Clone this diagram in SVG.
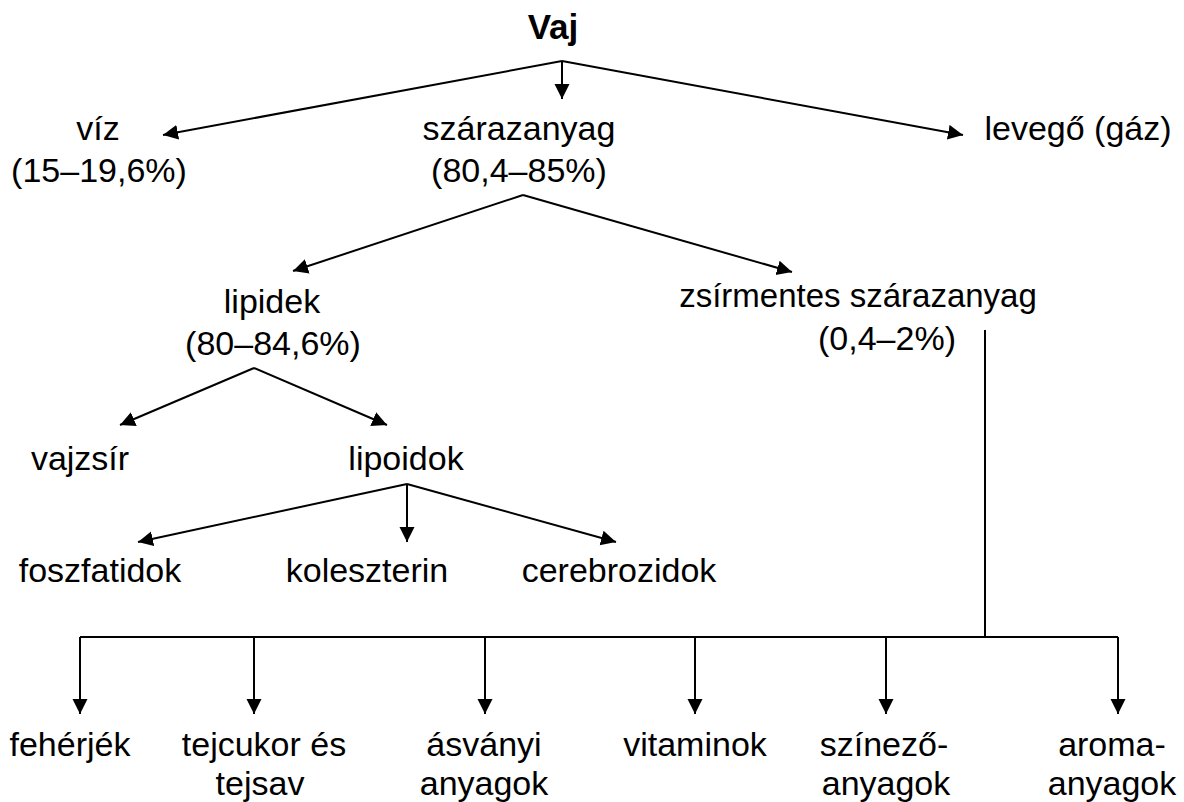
<svg xmlns="http://www.w3.org/2000/svg" width="1184" height="802" viewBox="0 0 1184 802">
<style>
text{font-family:"Liberation Sans",Arial,sans-serif;font-size:34px;fill:#000;text-anchor:middle}
.b{font-weight:bold;font-size:35px}
.n{font-size:33px}
.l{fill:none;stroke:#000;stroke-width:2}
.a{marker-end:url(#ah)}
</style>
<defs>
<marker id="ah" markerUnits="userSpaceOnUse" markerWidth="16" markerHeight="16" viewBox="0 0 16 16" refX="15" refY="8" orient="auto">
<path d="M0,0.5 L15,8 L0,15.5 z" fill="#000"/>
</marker>
</defs>
<rect width="1184" height="802" fill="#fff"/>
<g id="connectors">
<path class="l a" d="M562,61 L163,135"/>
<path class="l a" d="M562,61 L562,99"/>
<path class="l a" d="M562,61 L963,135"/>
<path class="l a" d="M523,195 L293,271"/>
<path class="l a" d="M523,195 L792,272"/>
<path class="l a" d="M254,368 L120,425"/>
<path class="l a" d="M254,368 L387,425"/>
<path class="l a" d="M407,484 L138,542"/>
<path class="l a" d="M407,484 L407,542"/>
<path class="l a" d="M407,484 L616,542"/>
<path class="l" d="M985,330 L985,637 M80,637 L1118,637"/>
<path class="l a" d="M80,637 L80,714"/>
<path class="l a" d="M254,637 L254,714"/>
<path class="l a" d="M485,637 L485,714"/>
<path class="l a" d="M695,637 L695,714"/>
<path class="l a" d="M886,637 L886,714"/>
<path class="l a" d="M1118,637 L1118,714"/>
</g>
<g id="vaj"><text class="b" x="553" y="39">Vaj</text></g>
<g id="viz"><text x="98" y="140">víz</text><text x="99" y="182">(15–19,6%)</text></g>
<g id="szarazanyag"><text x="519" y="140">szárazanyag</text><text x="519" y="182">(80,4–85%)</text></g>
<g id="levego"><text x="1078" y="140">levegő (gáz)</text></g>
<g id="lipidek"><text x="272" y="313">lipidek</text><text x="273" y="355">(80–84,6%)</text></g>
<g id="zsirmentes"><text class="n" x="858" y="307">zsírmentes szárazanyag</text><text x="887" y="350">(0,4–2%)</text></g>
<g id="vajzsir"><text x="80" y="470">vajzsír</text></g>
<g id="lipoidok"><text x="406" y="470">lipoidok</text></g>
<g id="foszfatidok"><text x="100" y="582">foszfatidok</text></g>
<g id="koleszterin"><text x="367" y="582">koleszterin</text></g>
<g id="cerebrozidok"><text x="619" y="582">cerebrozidok</text></g>
<g id="feherjek"><text x="70" y="756">fehérjék</text></g>
<g id="tejcukor"><text x="264" y="756">tejcukor és</text><text x="260" y="795">tejsav</text></g>
<g id="asvanyi"><text x="484" y="756">ásványi</text><text x="484" y="795">anyagok</text></g>
<g id="vitaminok"><text x="695" y="756">vitaminok</text></g>
<g id="szinezo"><text x="884" y="756">színező-</text><text x="886" y="795">anyagok</text></g>
<g id="aroma"><text x="1112" y="756">aroma-</text><text x="1112" y="795">anyagok</text></g>
</svg>
